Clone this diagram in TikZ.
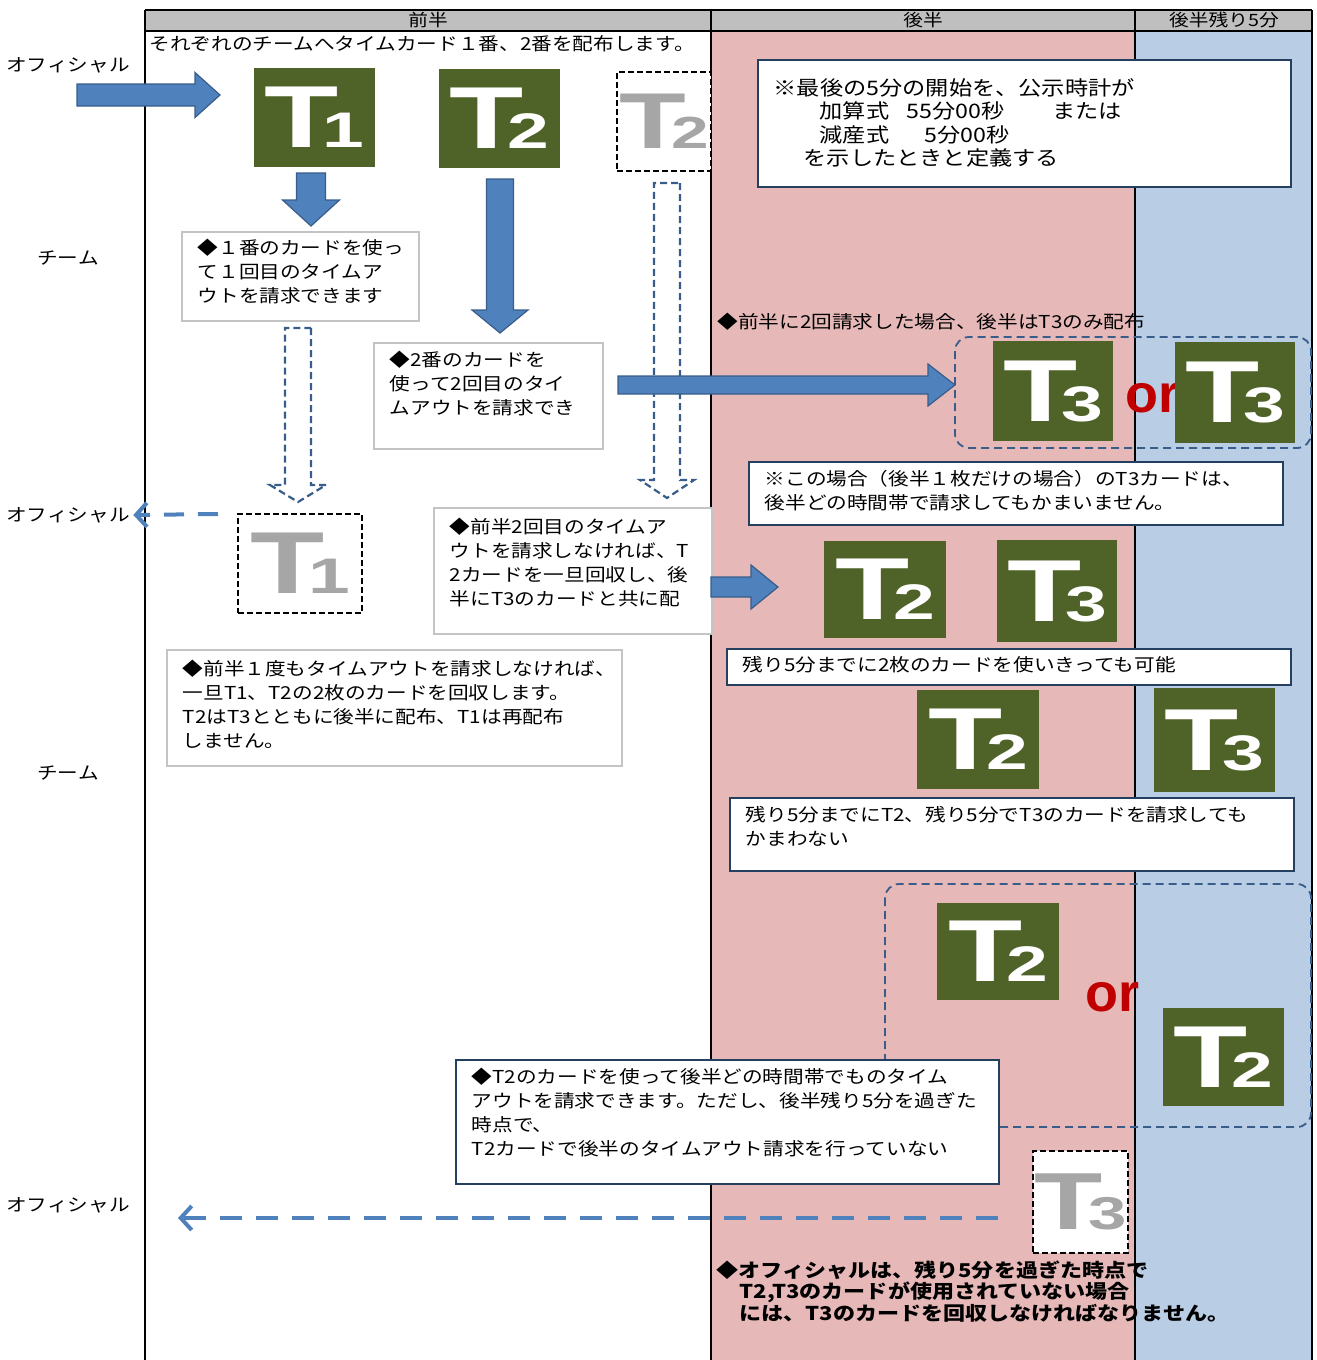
\documentclass[tikz,border=0pt]{standalone}
\usepackage{fontspec}
\setmainfont{Noto Sans CJK JP}[FakeStretch=1.16]
\newfontfamily\cardfont{Liberation Sans}
\usepackage{xcolor}
\usetikzlibrary{arrows.meta,positioning,calc}

\definecolor{cardgreen}{HTML}{4F6228}
\definecolor{arrowblue}{HTML}{4F81BD}
\definecolor{arrowedge}{HTML}{385D8A}
\definecolor{headgray}{HTML}{BFBFBF}
\definecolor{firstpink}{HTML}{E6B9B8}
\definecolor{lastblue}{HTML}{B9CDE5}
\definecolor{notegray}{HTML}{C4C4C4}
\definecolor{noteblue}{HTML}{243F60}
\definecolor{ghostgray}{HTML}{A6A6A6}
\definecolor{orred}{HTML}{C00000}

% card mark: big T with a digit
\newcommand\tmark[1]{{\cardfont\bfseries\scalebox{1.38}[1]{\fontsize{88}{88}\selectfont T}\kern-16pt\scalebox{1.5}[1]{\fontsize{50}{50}\selectfont #1}}}
% note text, top aligned in a box of fixed height
\newcommand\notetext[4][8]{\parbox[c][#3pt][t]{#2pt}{\vspace*{#1pt}#4}}
% block arrow: [style]{from}{to}{half body}{half head}{head length}
\newcommand\blockarrow[6][]{%
  \path (#2) coordinate (ba) (#3) coordinate (bb);
  \path ($(bb)!#6pt!(ba)$) coordinate (bh);
  \draw[#1] ($(ba)!#4pt!90:(bb)$) -- ($(bh)!#4pt!-90:(ba)$) -- ($(bh)!#5pt!-90:(ba)$) -- (bb)
    -- ($(bh)!#5pt!90:(ba)$) -- ($(bh)!#4pt!90:(ba)$) -- ($(ba)!#4pt!-90:(bb)$) -- cycle;}

\begin{document}
\begin{tikzpicture}[x=1pt,y=-1pt,
    every node/.style={font=\fontsize{17.8}{24}\selectfont},
    head/.style={font=\fontsize{17}{17}\selectfont},
    lane/.style={font=\fontsize{17.8}{18}\selectfont},
    card/.style={fill=cardgreen,text=white,minimum width=121pt,minimum height=99pt,inner sep=0pt,anchor=north west},
    ghost/.style={draw,line width=2pt,dash pattern=on 6pt off 3pt,fill=white,text=ghostgray,inner sep=0pt,anchor=north west},
    note/.style={draw=notegray,fill=white,line width=1.5pt,anchor=north west,inner xsep=16pt,inner ysep=0pt},
    bluenote/.style={note,draw=noteblue},
    blk/.style={fill=arrowblue,draw=arrowedge,line width=1.2pt},
    hollow/.style={draw=arrowedge,line width=2.2pt,dash pattern=on 7pt off 4pt},
    group/.style={draw=arrowedge,line width=1.8pt,dash pattern=on 8pt off 5pt,rounded corners=14pt},
    toofficial/.style={draw=arrowblue,line width=4pt,dash pattern=on 20pt off 14pt,-{Straight Barb[length=11pt,width=24pt]}},
    ortext/.style={text=orred,font=\cardfont\bfseries\fontsize{54}{54}\selectfont,inner sep=0pt}]
\useasboundingbox (0,0) rectangle (1317,1360);

% columns
\fill[firstpink] (711,31) rectangle (1135,1360);
\fill[lastblue] (1135,31) rectangle (1312,1360);
\fill[headgray] (145,10) rectangle (1312,31);
\draw[line width=2pt] (145,10) -- (1312,10) (145,31) -- (1312,31);
\draw[line width=2.5pt] (145,10) -- (145,1360) (711,10) -- (711,1360) (1312,10) -- (1312,1360);
\draw[line width=1.3pt] (1135,10) -- (1135,1360);
\node[head] (first) at (428,20) {前半};
\node[head] (second) at (923,20) {後半};
\node[head] (last5) at (1224,20) {後半残り5分};

% lanes
\node[lane] (off1) at (68,65) {オフィシャル};
\node[lane] (team1) at (68,258) {チーム};
\node[lane] (off2) at (68,515) {オフィシャル};
\node[lane] (team2) at (68,773) {チーム};
\node[lane] (off3) at (68,1205) {オフィシャル};

% first half
\node[anchor=west] (intro) at (146,44) {それぞれのチームへタイムカード１番、2番を配布します。};
\node[card] (t1) at (254,68) {\tmark{1}};
\node[card] (t2) at (439,69) {\tmark{2}};
\node[ghost,minimum width=94pt,minimum height=99pt] (t2g) at (616,71) {\scalebox{0.9}{\tmark{2}}};

\coordinate (a1s) at (77,95);   \coordinate (a1e) at (220,95);
\coordinate (a2s) at (311,173); \coordinate (a2e) at (311,226);
\coordinate (a3s) at (500,179); \coordinate (a3e) at (500,333);
\coordinate (h1s) at (298,328); \coordinate (h1e) at (298,502);
\coordinate (h2s) at (667,183); \coordinate (h2e) at (667,498);
\coordinate (a4s) at (618,385); \coordinate (a4e) at (955,385);
\coordinate (a5s) at (711,587); \coordinate (a5e) at (778,587);

\blockarrow[blk]{a1s}{a1e}{11}{22.5}{25}
\blockarrow[blk]{a2s}{a2e}{14.5}{28.5}{26}
\blockarrow[blk]{a3s}{a3e}{13.5}{28}{23}
\blockarrow[hollow]{h1s}{h1e}{13}{28}{17}
\blockarrow[hollow]{h2s}{h2e}{13}{27}{18}

\node[note] (n1) at (181,231) {\notetext[7.5]{205}{89}{◆１番のカードを使っ\\て１回目のタイムア\\ウトを請求できます}};
\node[note] (n2) at (373,342) {\notetext[8]{197}{106}{◆2番のカードを\\使って2回目のタイ\\ムアウトを請求でき}};
\node[note] (n3) at (433,507) {\notetext[10]{246}{126}{◆前半2回目のタイムア\\ウトを請求しなければ、T\\2カードを一旦回収し、後\\半にT3のカードと共に配}};
\node[note] (n4) at (166,649) {\notetext[10]{423}{116}{◆前半１度もタイムアウトを請求しなければ、\\一旦T1、T2の2枚のカードを回収します。\\T2はT3とともに後半に配布、T1は再配布\\しません。}};

\node[ghost,minimum width=124pt,minimum height=99pt] (t1g) at (237,513) {\tmark{1}};
\coordinate (r1s) at (218,514);
\draw[toofficial] (r1s) -- (off2.east);

% second half
\node[bluenote,font=\fontsize{20}{23.3}\selectfont] (na) at (757,59) {\notetext[19]{501}{127}{※最後の5分の開始を、公示時計が\\
  \hspace*{46pt}加算式\hspace{17pt}55分00秒\hspace{48pt}または\\
  \hspace*{46pt}減産式\hspace{35pt}5分00秒\\
  \hspace*{30pt}を示したときと定義する}};

\node[anchor=west] (only3) at (714,322) {◆前半に2回請求した場合、後半はT3のみ配布};
\draw[group] (955,337) rectangle (1311,448);
\node[card,minimum width=120pt,minimum height=100pt] (t3a) at (993,341) {\tmark{3}};
\node[ortext] (or1) at (1152,398) {or};
\node[card,minimum width=120pt,minimum height=101pt] (t3b) at (1175,342) {\tmark{3}};
\blockarrow[blk]{a4s}{a4e}{9}{21}{27}

\node[bluenote] (nb) at (748,461) {\notetext[9]{502}{63}{※この場合（後半１枚だけの場合）のT3カードは、\\後半どの時間帯で請求してもかまいません。}};

\blockarrow[blk]{a5s}{a5e}{10}{22}{27}
\node[card,minimum width=122pt,minimum height=97pt] (t2c) at (824,541) {\tmark{2}};
\node[card,minimum width=120pt,minimum height=102pt] (t3c) at (997,540) {\tmark{3}};
\node[bluenote] (nc) at (726,648) {\notetext[8]{532}{36}{残り5分までに2枚のカードを使いきっても可能}};

\node[card,minimum width=122pt,minimum height=99pt] (t2d) at (917,690) {\tmark{2}};
\node[card,minimum width=121pt,minimum height=104pt] (t3d) at (1154,688) {\tmark{3}};
\node[bluenote] (nd) at (729,797) {\notetext[9]{532}{73}{残り5分までにT2、残り5分でT3のカードを請求しても\\かまわない}};

\draw[group] (885,884) rectangle (1311,1127);
\node[card,minimum width=122pt,minimum height=97pt] (t2e) at (937,903) {\tmark{2}};
\node[ortext] (or2) at (1112,997) {or};
\node[card,minimum width=121pt,minimum height=98pt] (t2f) at (1163,1008) {\tmark{2}};

\node[bluenote] (ne) at (455,1059) {\notetext[8]{511}{124}{◆T2のカードを使って後半どの時間帯でものタイム\\アウトを請求できます。ただし、後半残り5分を過ぎた\\時点で、\\T2カードで後半のタイムアウト請求を行っていない}};

\node[ghost,minimum width=95pt,minimum height=102pt] (t3g) at (1032,1150) {\scalebox{0.92}{\tmark{3}}};
\coordinate (r2s) at (998,1218); \coordinate (r2e) at (178,1218);
\draw[toofficial,dash pattern=on 22pt off 14pt] (r2s) -- (r2e);

\node[anchor=north west,align=left,font=\bfseries\fontsize{19}{21.5}\selectfont] (rule) at (713,1257) {◆オフィシャルは、残り5分を過ぎた時点で\\
  \hspace*{23pt}T2,T3のカードが使用されていない場合\\
  \hspace*{23pt}には、T3のカードを回収しなければなりません。};
\end{tikzpicture}
\end{document}
